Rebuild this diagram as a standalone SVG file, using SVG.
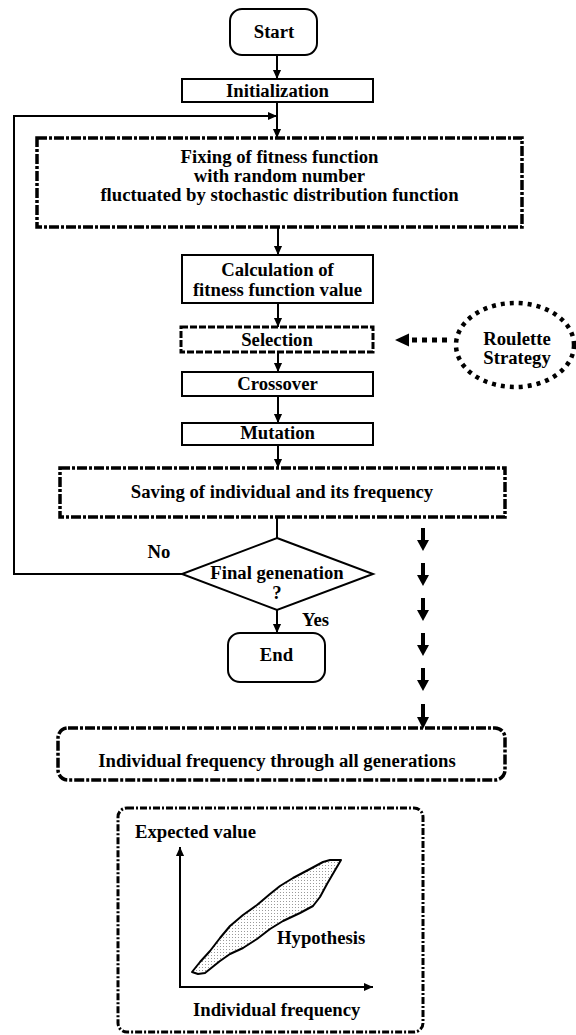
<svg xmlns="http://www.w3.org/2000/svg" width="576" height="1035" viewBox="0 0 576 1035">
<style>
.t{font-family:"Liberation Serif","Times New Roman",serif;font-weight:bold;font-size:18.7px;fill:#000;text-anchor:middle}
.ts{text-anchor:start}
.box{fill:#fff;stroke:#000;stroke-width:2}
.dd{fill:none;stroke:#000;stroke-width:3.5;stroke-dasharray:10 2 3 2}
.dd2{fill:none;stroke:#000;stroke-width:3;stroke-dasharray:7 2 2 2}
.dash{fill:none;stroke:#000;stroke-width:3;stroke-dasharray:7 2}
.ln{fill:none;stroke:#000;stroke-width:2}
.thick{fill:none;stroke:#000;stroke-width:4}
</style>
<defs>
<marker id="ah" viewBox="0 0 10 10" refX="10" refY="5" markerUnits="userSpaceOnUse" markerWidth="9" markerHeight="10" orient="auto">
<path d="M0,0.5 L10,5 L0,9.5 z" fill="#000"/>
</marker>
<pattern id="dots" width="3" height="3" patternUnits="userSpaceOnUse">
<rect width="3" height="3" fill="#fff"/>
<rect x="1" y="1" width="1" height="1" fill="#9a9a9a"/>
</pattern>
</defs>

<g id="connectors">
<line class="ln" x1="277" y1="55" x2="277" y2="79" marker-end="url(#ah)"/>
<line class="ln" x1="277" y1="102" x2="277" y2="138" marker-end="url(#ah)"/>
<polyline class="ln" points="182,574 14,574 14,116 277,116" marker-end="url(#ah)"/>
<line class="ln" x1="278" y1="227" x2="278" y2="255" marker-end="url(#ah)"/>
<line class="ln" x1="278" y1="303" x2="278" y2="327" marker-end="url(#ah)"/>
<line class="ln" x1="278" y1="352" x2="278" y2="372" marker-end="url(#ah)"/>
<line class="ln" x1="278" y1="396" x2="278" y2="423" marker-end="url(#ah)"/>
<line class="ln" x1="278" y1="445" x2="278" y2="468" marker-end="url(#ah)"/>
<line class="ln" x1="277" y1="517" x2="277" y2="538"/>
<line class="ln" x1="277" y1="610" x2="277" y2="633" marker-end="url(#ah)"/>
<line x1="447" y1="340" x2="406" y2="340" stroke="#000" stroke-width="5" stroke-dasharray="5 5"/>
<polygon points="395,340 409,333.5 409,346.5" fill="#000"/>
<g id="side-arrows">
<line class="thick" x1="423" y1="528" x2="423" y2="541"/>
<polygon points="417,540 429,540 423,551"/>
<line class="thick" x1="423" y1="563" x2="423" y2="576"/>
<polygon points="417,575 429,575 423,586"/>
<line class="thick" x1="423" y1="598" x2="423" y2="611"/>
<polygon points="417,610 429,610 423,621"/>
<line class="thick" x1="423" y1="633" x2="423" y2="646"/>
<polygon points="417,645 429,645 423,656"/>
<line class="thick" x1="423" y1="668" x2="423" y2="681"/>
<polygon points="417,680 429,680 423,691"/>
<line class="thick" x1="423" y1="704" x2="423" y2="718"/>
<polygon points="417,717 429,717 423,729"/>
</g>
</g>

<g id="start">
<rect class="box" x="230" y="9" width="87" height="46" rx="12"/>
<text class="t" x="274" y="38">Start</text>
</g>

<g id="init">
<rect class="box" x="182" y="79" width="191" height="23"/>
<text class="t" x="277.5" y="97">Initialization</text>
</g>

<g id="fixing">
<rect class="dd" x="37" y="138" width="485" height="89"/>
<text class="t" x="279.5" y="163">Fixing of fitness function</text>
<text class="t" x="279.5" y="182">with random number</text>
<text class="t" x="279.5" y="201">fluctuated by stochastic distribution function</text>
</g>

<g id="calc">
<rect class="box" x="182" y="255" width="191" height="48"/>
<text class="t" x="277.5" y="276">Calculation of</text>
<text class="t" x="277.5" y="296">fitness function value</text>
</g>

<g id="selection">
<rect class="dash" x="181" y="327" width="192" height="25"/>
<text class="t" x="277" y="346">Selection</text>
</g>

<g id="roulette">
<ellipse cx="515" cy="345" rx="59" ry="42" fill="none" stroke="#000" stroke-width="4.5" stroke-dasharray="4 5"/>
<text class="t" x="517" y="344.5">Roulette</text>
<text class="t" x="517" y="364">Strategy</text>
</g>

<g id="crossover">
<rect class="box" x="182" y="372" width="191" height="24"/>
<text class="t" x="277.5" y="390">Crossover</text>
</g>

<g id="mutation">
<rect class="box" x="182" y="423" width="191" height="22"/>
<text class="t" x="277.5" y="439">Mutation</text>
</g>

<g id="saving">
<rect class="dd" x="60" y="468" width="445" height="49"/>
<text class="t" x="282" y="498">Saving of individual and its frequency</text>
</g>

<g id="decision">
<polygon class="box" points="277,538 373,574 277,610 182,574"/>
<text class="t" x="277" y="579">Final genenation</text>
<text class="t" x="277" y="599">?</text>
<text class="t" x="159" y="558">No</text>
<text class="t ts" x="302" y="626">Yes</text>
</g>

<g id="end">
<rect class="box" x="228" y="633" width="97" height="49" rx="12"/>
<text class="t" x="276.5" y="661">End</text>
</g>

<g id="frequency">
<rect class="dd" x="58" y="728" width="447" height="52" rx="10"/>
<text class="t" x="277" y="767">Individual frequency through all generations</text>
</g>

<g id="graph">
<rect class="dd2" x="118" y="808" width="305" height="224" rx="9"/>
<path d="M192,972 L200,962 L210,951 L220,938 L230,926 L243,915 L257,905 L270,894 L280,886 L293,878 L310,869 L323,862 L330,860 L341,860 L334,872 L327,884 L320,897 L313,906 L300,913 L283,921 L270,929 L257,939 L243,948 L230,954 L220,961 L210,969 L205,973 L198,974 Z" fill="url(#dots)" stroke="#000" stroke-width="2" stroke-linejoin="round"/>
<line class="ln" x1="180" y1="987" x2="180" y2="847" marker-end="url(#ah)"/>
<line class="ln" x1="179" y1="987" x2="373" y2="987" marker-end="url(#ah)"/>
<text class="t ts" x="135" y="838">Expected value</text>
<text class="t ts" x="277" y="944">Hypothesis</text>
<text class="t ts" x="193" y="1016">Individual frequency</text>
</g>
</svg>
